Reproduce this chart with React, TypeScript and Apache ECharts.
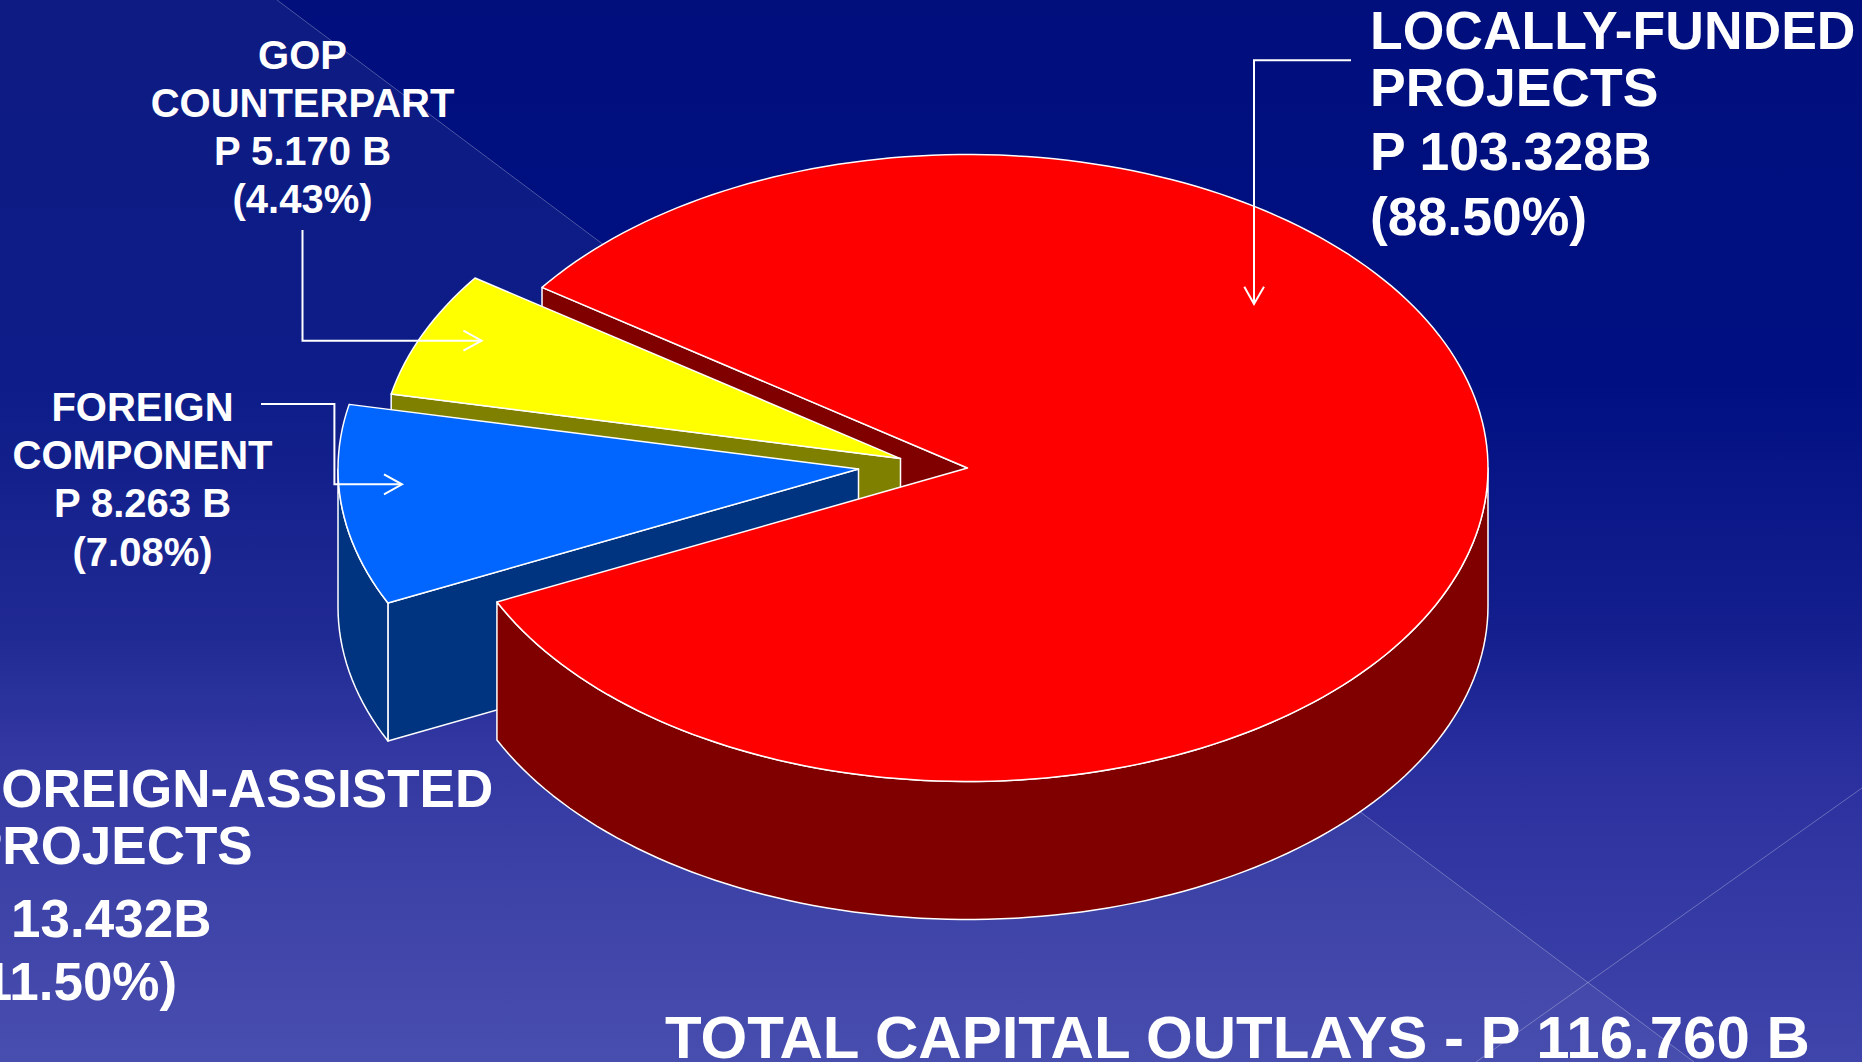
import React, { useEffect, useRef } from "react";
import * as echarts from "echarts";

// ---- data ----
const sliceNames = ["GOP Counterpart", "Foreign Component", "Locally-Funded Projects"];
const sliceValues = [5.17, 8.263, 103.328];
const totalLine = ["TOTAL CAPITAL OUTLAYS - P 116.760 B"];
const locallyLines = ["LOCALLY-FUNDED", "PROJECTS", "P 103.328B", "(88.50%)"];
const foreignAssistedLines = ["FOREIGN-ASSISTED", "PROJECTS", "P 13.432B", "(11.50%)"];
const gopLines = ["GOP", "COUNTERPART", "P 5.170 B", "(4.43%)"];
const foreignLines = ["FOREIGN", "COMPONENT", "P 8.263 B", "(7.08%)"];

// ---- drawing constants ----
const W = 1862;
const H = 1062;
const CX = 967.5;
const CY = 468;
const RX = 520.5;
const RY = 313.5;
const DEPTH = 138;
const START_DEG = 154.7; // screen-clockwise ellipse angle where the foreign slice starts
const SMALL_STRETCH = 1.46; // the picture's perspective widens the slices facing the viewer

const topColors = ["#ffff00", "#0066ff", "#ff0000"];
const sideColors = ["#808000", "#003380", "#800000"];
const offsets = [[-67, -9.4], [-109, 1], [0, 0]];
const drawOrder = [1, 2, 3];

const total = sliceValues.reduce((a, b) => a + b, 0);
const blueSweep = (sliceValues[1] / total) * 360 * SMALL_STRETCH;
const yellowSweep = (sliceValues[0] / total) * 360 * SMALL_STRETCH;
const ranges = [
  [START_DEG + blueSweep, START_DEG + blueSweep + yellowSweep],
  [START_DEG, START_DEG + blueSweep],
  [START_DEG + blueSweep + yellowSweep, START_DEG + 360],
];

const pt = (c: number[], deg: number, dy = 0) => {
  const r = (deg * Math.PI) / 180;
  return [c[0] + RX * Math.cos(r), c[1] + RY * Math.sin(r) + dy];
};

const arc = (c: number[], a: number, b: number, dy = 0) => {
  const n = Math.max(2, Math.ceil(Math.abs(b - a) / 1.5));
  const out: number[][] = [];
  for (let i = 0; i <= n; i++) out.push(pt(c, a + ((b - a) * i) / n, dy));
  return out;
};

const edgeStyle = (fill: string) => ({
  fill,
  stroke: "#ffffff",
  lineWidth: 1.5,
  lineJoin: "round",
});

const poly = (points: number[][], fill: string, z2: number) => ({
  type: "polygon",
  z2,
  shape: { points },
  style: edgeStyle(fill),
});

// builds the visible faces of one slice out of its value-derived angle range
const renderSlice = (params: any) => {
  const i = params.dataIndex;
  const [a, b] = ranges[i];
  const c = [CX + offsets[i][0], CY + offsets[i][1]];
  const z = drawOrder[i];
  const side = sideColors[i];
  const children: any[] = [];

  if (i === 2) {
    // the cut wall of the big slice, seen through the gap; lies behind the other slices
    const e = pt(c, a);
    children.push(
      poly([e, c, [c[0], c[1] + DEPTH], [e[0], e[1] + DEPTH]], side, 0)
    );
    // outer rim
    const rim = arc(c, 360, b);
    children.push(poly([...rim, ...arc(c, b, 360, DEPTH)], side, z));
  } else {
    // cut wall facing the viewer
    const e = pt(c, a);
    children.push(poly([e, c, [c[0], c[1] + DEPTH], [e[0], e[1] + DEPTH]], side, z));
    // outer rim where it faces the viewer
    if (a < 180) {
      const end = Math.min(b, 180);
      children.push(poly([...arc(c, a, end), ...arc(c, end, a, DEPTH)], side, z));
    }
  }
  children.push(poly([c, ...arc(c, a, b)], topColors[i], z));
  return { type: "group", children };
};

const txt = (text: string, x: number, y: number, size: number, align = "left") => ({
  type: "text",
  x,
  y: y + size * 0.155,
  z: 50,
  style: {
    text,
    fill: "#ffffff",
    font: `bold ${size}px "Liberation Sans", Arial, sans-serif`,
    textAlign: align,
    textVerticalAlign: "bottom",
  },
});

const stack = (lines: string[], ys: number[], xs: number[], size: number, align = "left") =>
  lines.map((l, i) => txt(l, xs[i], ys[i], size, align));

const wire = (points: number[][]) => ({
  type: "polyline",
  z: 40,
  shape: { points },
  style: { stroke: "#ffffff", lineWidth: 2, fill: "none" },
});

const hair = (points: number[][]) => ({
  type: "polyline",
  z: 0,
  shape: { points },
  style: { stroke: "rgba(255,255,255,0.28)", lineWidth: 1, fill: "none" },
});

const same = (x: number) => [x, x, x, x];

const option: any = {
  animation: false,
  backgroundColor: new echarts.graphic.LinearGradient(0, 0, 0, 1, [
    { offset: 0, color: "#000f7c" },
    { offset: 0.36, color: "#001082" },
    { offset: 0.6, color: "#151f8e" },
    { offset: 0.72, color: "#2a2f9e" },
    { offset: 1, color: "#3f45aa" },
  ]),
  series: [
    {
      type: "custom",
      name: "Capital outlays",
      coordinateSystem: "none",
      silent: true,
      renderItem: renderSlice,
      data: sliceNames.map((name, i) => ({ name, value: [sliceValues[i]] })),
      z: 10,
    },
  ],
  graphic: {
    elements: [
      {
        type: "polygon",
        z: 0,
        shape: { points: [[0, 0], [277, 0], [1694, 1062], [0, 1062]] },
        style: { fill: "rgba(255,255,255,0.05)" },
      },
      hair([[277, 0], [1694, 1062]]),
      hair([[1862, 788], [1476, 1062]]),

      wire([[302.5, 230], [302.5, 340.7], [481.6, 340.7]]),
      wire([[463.4, 330.7], [481.6, 340.7], [463.4, 350.7]]),
      wire([[261, 404], [334.4, 404], [334.4, 484.3], [402, 484.3]]),
      wire([[384, 474.3], [402, 484.3], [384, 494.3]]),
      wire([[1351, 60.3], [1254, 60.3], [1254, 304]]),
      wire([[1244.3, 286.7], [1254, 304], [1264, 286.7]]),

      ...stack(locallyLines, [49.3, 106.7, 170, 235], same(1370), 53.5),
      ...stack(foreignAssistedLines, [806.7, 864, 936.7, 1000], [-31, -33, -38, -35], 53),
      ...stack(gopLines, [68.3, 116.7, 164.3, 212.7], same(302.5), 40, "center"),
      ...stack(foreignLines, [421, 469, 517, 566], same(142.5), 40, "center"),
      ...stack(totalLine, [1057.7], [665], 60),
    ],
  },
};

export default function App() {
  const ref = useRef<HTMLDivElement>(null);
  useEffect(() => {
    document.body.style.margin = "0";
    document.body.style.overflow = "hidden";
    const chart = echarts.init(ref.current!, undefined, { renderer: "svg" });
    chart.setOption(option);
    return () => chart.dispose();
  }, []);
  return <div ref={ref} style={{ width: W, height: H }} />;
}
